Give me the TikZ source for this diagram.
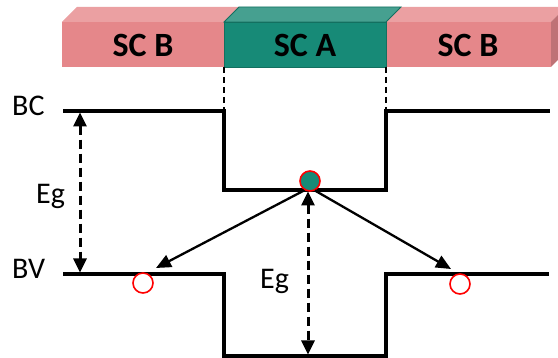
\documentclass[tikz,border=0pt]{standalone}
\usepackage{fontspec}
\setmainfont{Carlito}
\usetikzlibrary{arrows.meta}
\definecolor{pinkF}{HTML}{E5878A}
\definecolor{pinkT}{HTML}{EBA0A2}
\definecolor{pinkS}{HTML}{BF7276}
\definecolor{tealF}{HTML}{178A77}
\definecolor{tealT}{HTML}{46A090}
\definecolor{tealD}{HTML}{137060}
\tikzset{
  level/.style={line width=3.2pt, line join=miter},
  gap/.style={line width=3pt, dash pattern=on 9pt off 5pt, {Triangle[length=14pt,width=13pt]}-{Triangle[length=14pt,width=13pt]}},
  jump/.style={line width=2.3pt, -{Triangle[length=15pt,width=13pt]}, shorten <=1pt},
  bound/.style={line width=1.8pt, dash pattern=on 6pt off 4pt},
  lab/.style={font=\fontsize{30}{30}\selectfont, inner sep=0pt},
  sclab/.style={font=\fontsize{34}{34}\selectfont\bfseries, inner sep=0pt},
  elec/.style={circle, minimum size=20pt, inner sep=0pt, fill=tealF, draw=red, line width=1.6pt},
  hole/.style={circle, minimum size=20pt, inner sep=0pt, fill=white, draw=red, line width=1.6pt},
}
\begin{document}
\begin{tikzpicture}[x=1pt,y=-1pt]
\useasboundingbox (0,0) rectangle (558,358);
% left SC B
\fill[pinkT] (62,22) -- (77,7) -- (239,7) -- (224,22) -- cycle;
\fill[pinkF] (62,22) rectangle (224,67);
% right SC B
\fill[pinkT] (386,22) -- (401,7) -- (566,7) -- (551,22) -- cycle;
\fill[pinkS] (551,22) -- (566,7) -- (566,52) -- (551,67) -- cycle;
\fill[pinkF] (386,22) rectangle (551,67);
% SC A
\filldraw[tealT, draw=tealD, line width=0.8pt] (224,22) -- (239,7) -- (401,7) -- (386,22) -- cycle;
\filldraw[tealF, draw=tealD, line width=0.8pt] (224,22) rectangle (386,67);
\node[sclab] (scb1) at (143,45) {SC B};
\node[sclab] (sca) at (305,45) {SC A};
\node[sclab] (scb2) at (468,45) {SC B};
% coordinates of band edges
\coordinate (bc0) at (63,111);
\coordinate (bc1) at (224,111);
\coordinate (bc2) at (224,190);
\coordinate (bc3) at (386,190);
\coordinate (bc4) at (386,111);
\coordinate (bc5) at (550,111);
\coordinate (bv0) at (63,274);
\coordinate (bv1) at (224,274);
\coordinate (bv2) at (224,356);
\coordinate (bv3) at (386,356);
\coordinate (bv4) at (386,274);
\coordinate (bv5) at (549,274);
\coordinate (t1) at (224,67);
\coordinate (t2) at (386,67);
% boundaries
\draw[bound] (t1) -- (bc1);
\draw[bound] (t2) -- (bc4);
% bands
\draw[level] (bc0) -- (bc1) -- (bc2) -- (bc3) -- (bc4) -- (bc5);
\draw[level] (bv0) -- (bv1) -- (bv2) -- (bv3) -- (bv4) -- (bv5);
% labels
\node[lab, anchor=base west] (BC) at (12,116) {BC};
\node[lab, anchor=base west] (BV) at (12,279) {BV};
\node[lab, anchor=base west] (eg1) at (36,204) {Eg};
\node[lab, anchor=base west] (eg2) at (260,289) {Eg};
% gap arrows
\coordinate (g1a) at (80,112.5);
\coordinate (g1b) at (80,272.5);
\coordinate (g2a) at (308,191.5);
\coordinate (g2b) at (308,354.5);
\draw[gap] (g1a) -- (g1b);
\draw[gap] (g2a) -- (g2b);
% carriers
\node[elec] (e) at (310,181) {};
\node[hole] (h1) at (143,283) {};
\node[hole] (h2) at (460,284) {};
\coordinate (s1) at (305,190);
\coordinate (s2) at (314,190);
\coordinate (a1) at (156,268);
\coordinate (a2) at (451,269);
\draw[jump] (s1) -- (a1);
\draw[jump] (s2) -- (a2);
\end{tikzpicture}
\end{document}
